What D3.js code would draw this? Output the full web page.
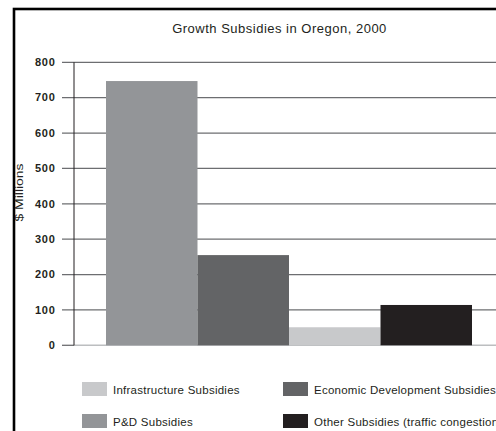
<!DOCTYPE html>
<html>
<head>
<meta charset="utf-8">
<script src="https://cdn.jsdelivr.net/npm/d3@7"></script>
<style>
  body { margin: 0; background: #fff; }
  svg { display: block; font-family: "Liberation Sans", Arial, sans-serif; }
</style>
</head>
<body>
<div id="chart"></div>
<script>
// data
const categories = ["P&D Subsidies", "Economic Development Subsidies", "Infrastructure Subsidies", "Other Subsidies (traffic congestion)"]
const values = [747, 255, 51, 114]
const colors = ["#939598", "#636466", "#c8c9cb", "#231f20"]
const ticks = [0, 100, 200, 300, 400, 500, 600, 700, 800]
const legendOrder = [2, 1, 0, 3]

const W = 496, H = 431

const svg = d3.select("#chart").append("svg")
    .attr("width", W)
    .attr("height", H)

const y = d3.scaleLinear().domain([0, 800]).range([345.3, 62.3])
const x = d3.scaleBand().domain(categories).range([106, 472]).padding(0)

// frame (runs off the right and bottom edges)
svg.append("rect")
    .attr("x", 14).attr("y", 9)
    .attr("width", 700).attr("height", 700)
    .attr("fill", "none")
    .attr("stroke", "#000")
    .attr("stroke-width", 2.6)

svg.append("text")
    .attr("x", 279.5).attr("y", 33)
    .attr("text-anchor", "middle")
    .attr("font-size", 13)
    .attr("letter-spacing", 0.5)
    .attr("fill", "#231f20")
    .text("Growth Subsidies in Oregon, 2000")

// grid lines
svg.append("g").selectAll("line")
    .data(ticks.filter(d => d > 0))
    .enter().append("line")
    .attr("x1", 62).attr("x2", W)
    .attr("y1", d => y(d)).attr("y2", d => y(d))
    .attr("stroke", "#6d6e71")
    .attr("stroke-width", 1.3)

// zero line
svg.append("line")
    .attr("x1", 62).attr("x2", 74)
    .attr("y1", y(0)).attr("y2", y(0))
    .attr("stroke", "#6d6e71").attr("stroke-width", 1.3)
svg.append("line")
    .attr("x1", 74).attr("x2", W)
    .attr("y1", y(0)).attr("y2", y(0))
    .attr("stroke", "#bcbec0").attr("stroke-width", 1.5)

// tick labels
svg.append("g").selectAll("text")
    .data(ticks)
    .enter().append("text")
    .attr("x", 55.5)
    .attr("y", d => y(d) + 3.8)
    .attr("text-anchor", "end")
    .attr("font-size", 11)
    .attr("letter-spacing", 0.7)
    .attr("font-weight", "bold")
    .attr("fill", "#231f20")
    .text(d => d)

svg.append("line")
    .attr("x1", 74).attr("x2", 74)
    .attr("y1", y(800)).attr("y2", y(0))
    .attr("stroke", "#231f20").attr("stroke-width", 1)

svg.append("text")
    .attr("transform", "translate(23,192.5) rotate(-90)")
    .attr("text-anchor", "middle")
    .attr("font-size", 10.5)
    .attr("textLength", 58)
    .attr("lengthAdjust", "spacingAndGlyphs")
    .attr("fill", "#231f20")
    .text("$ Millions")

// bars
svg.append("g").selectAll("rect")
    .data(categories)
    .enter().append("rect")
    .attr("x", d => x(d))
    .attr("width", x.bandwidth())
    .attr("y", (d, i) => y(values[i]))
    .attr("height", (d, i) => y(0) - y(values[i]))
    .attr("fill", (d, i) => colors[i])

// legend
const legend = svg.append("g").selectAll("g")
    .data(legendOrder)
    .enter().append("g")
    .attr("transform", (d, k) => "translate(" + (k % 2 ? 283 : 82) + "," + (k < 2 ? 382 : 414) + ")")

legend.append("rect")
    .attr("width", 25).attr("height", 14)
    .attr("fill", d => colors[d])

legend.append("text")
    .attr("x", 31).attr("y", 11.5)
    .attr("font-size", 11.5)
    .attr("letter-spacing", 0.25)
    .attr("fill", "#231f20")
    .text(d => categories[d])
</script>
</body>
</html>
